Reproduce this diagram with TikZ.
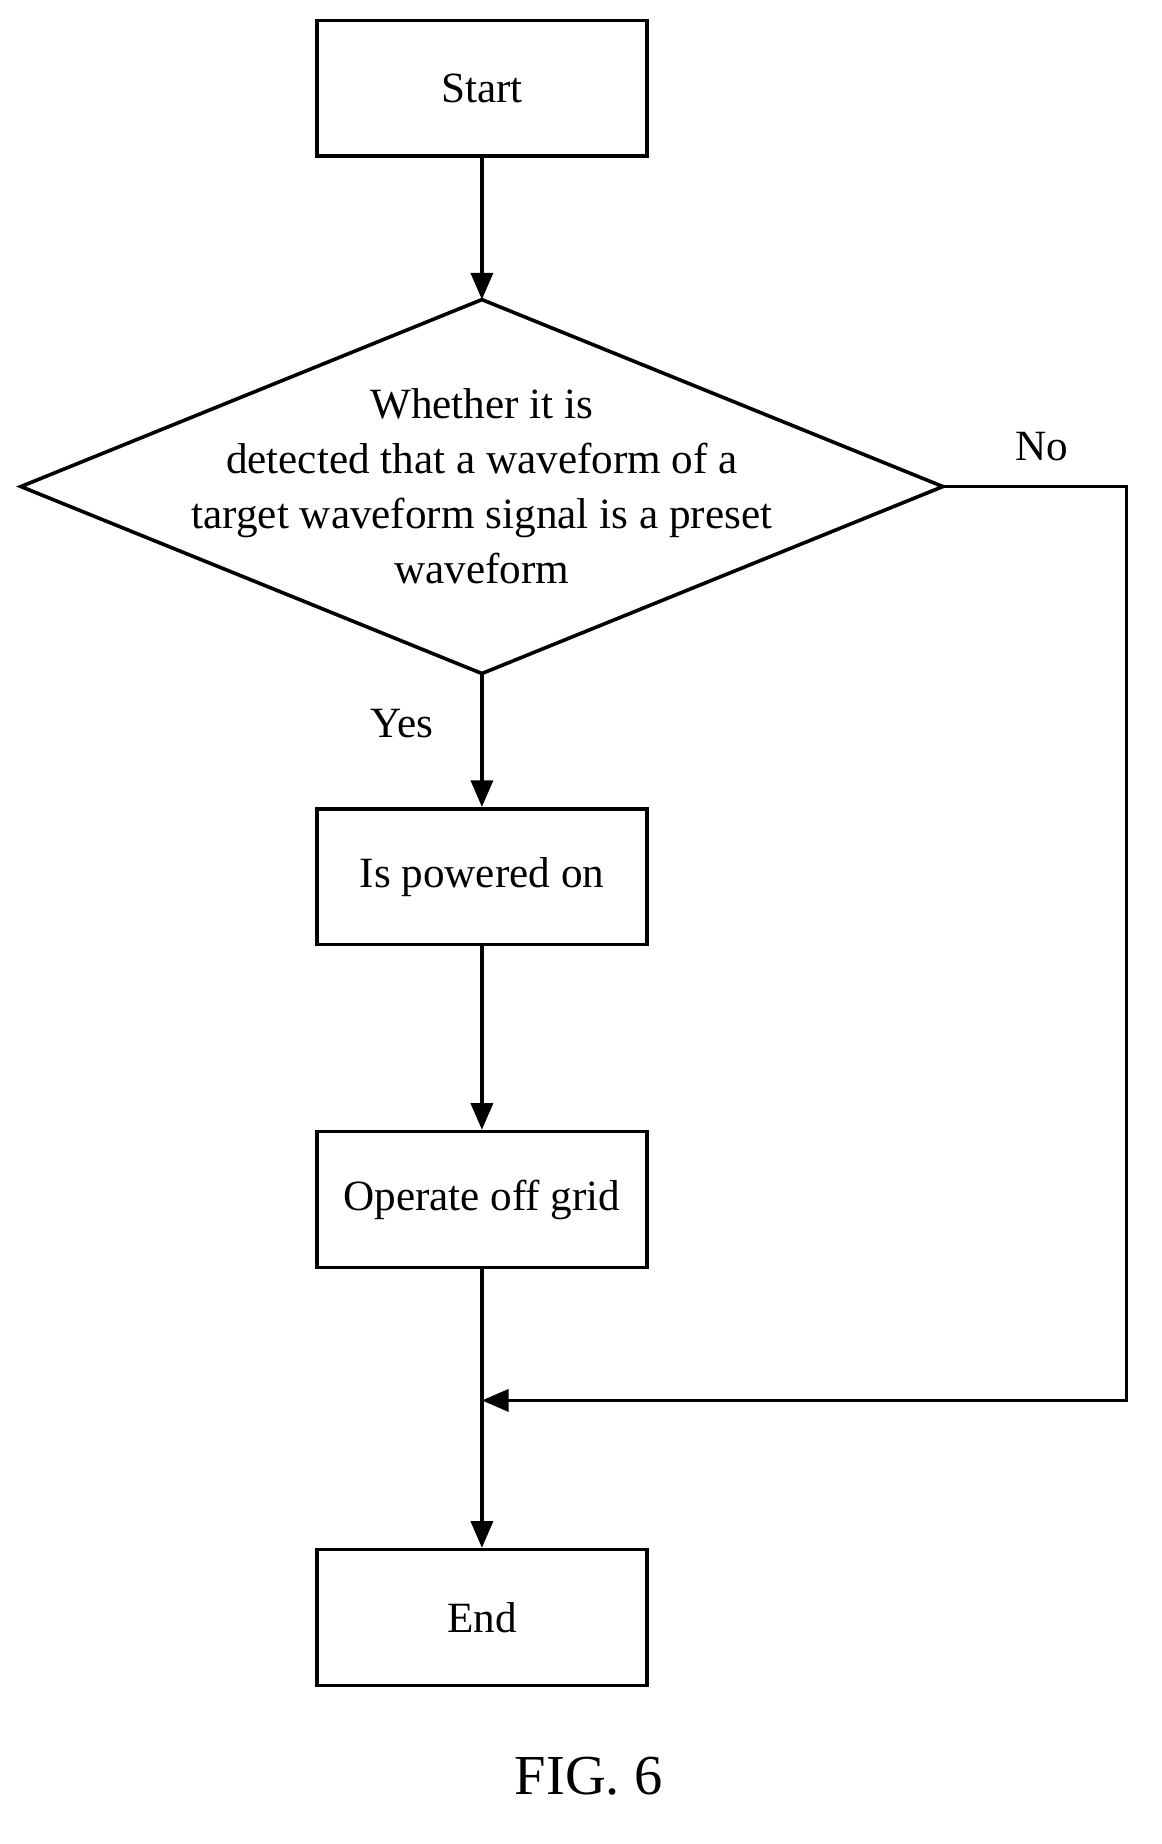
\documentclass[tikz,border=0pt]{standalone}
\usepackage{fontspec}
\setmainfont{Liberation Serif}
\usetikzlibrary{arrows.meta}
\begin{document}
\begin{tikzpicture}[x=0.026cm,y=-0.026cm,
  box/.style={draw,line width=2.3pt,minimum width=284*0.026cm,minimum height=117*0.026cm,inner sep=0pt,font=\fontsize{27.5}{35}\selectfont},
  arr/.style={line width=2.3pt,-{Triangle[length=17pt,width=14pt]}},
  lbl/.style={font=\fontsize{27.5}{35}\selectfont}]
\useasboundingbox (0,0) rectangle (1000,1588);
\node[box] (s) at (415,76) {Start};
\draw[line width=2.3pt] (18,419) coordinate (dl) -- (415,258) coordinate (dt) -- (812,419) coordinate (dr) -- (415,580) coordinate (db) -- cycle;
\node[lbl,align=center] (q) at (415,419) {Whether it is\\detected that a waveform of a\\target waveform signal is a preset\\waveform};
\node[box] (p) at (415,755) {Is powered on};
\node[box] (o) at (415,1033) {Operate off grid};
\node[box] (e) at (415,1393) {End};
\coordinate (j) at (415,1206);
\coordinate (c1) at (970,419);
\coordinate (c2) at (970,1206);
\draw[arr] (s) -- (dt);
\draw[arr] (db) -- (p);
\draw[arr] (p) -- (o);
\draw[arr] (o) -- (e);
\draw[arr] (dr) -- (c1) -- (c2) -- (j);
\node[lbl] (no) at (897,385) {No};
\node[lbl] (yes) at (346,623) {Yes};
\node[font=\fontsize{36}{40}\selectfont] (fig) at (507,1530) {FIG. 6};
\end{tikzpicture}
\end{document}
